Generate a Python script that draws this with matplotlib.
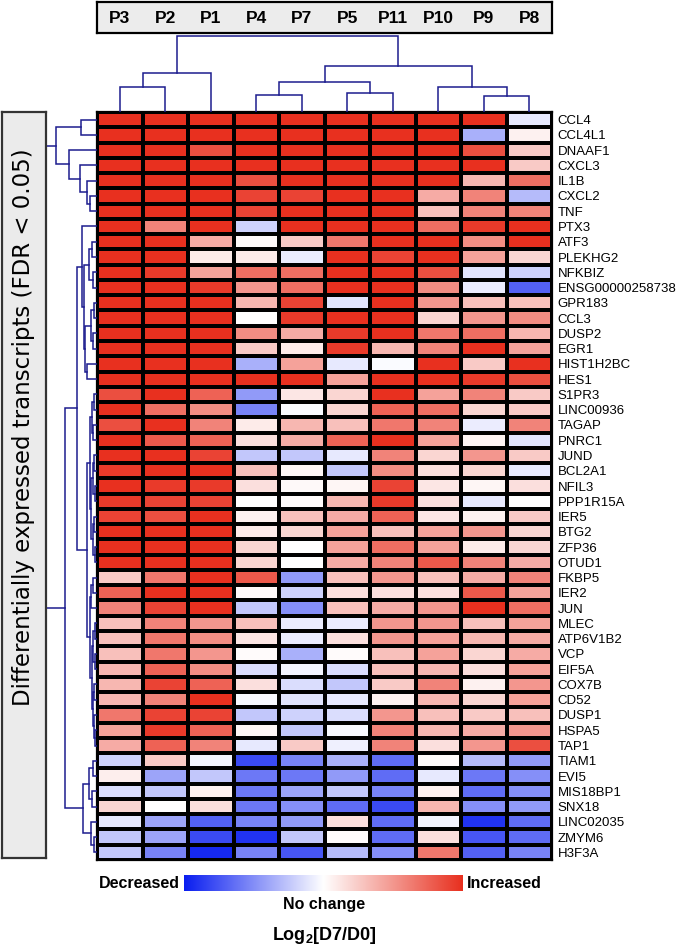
import numpy as np
import matplotlib
matplotlib.use("Agg")
import matplotlib.pyplot as plt
from matplotlib.colors import LinearSegmentedColormap

plt.rcParams.update({
    "font.family": ["Liberation Sans", "DejaVu Sans"],
    "mathtext.fontset": "custom",
    "mathtext.rm": "Liberation Sans",
    "mathtext.bf": "Liberation Sans:bold",
})

samples = ["P3", "P2", "P1", "P4", "P7", "P5", "P11", "P10", "P9", "P8"]
genes = ["CCL4", "CCL4L1", "DNAAF1", "CXCL3", "IL1B", "CXCL2", "TNF", "PTX3", "ATF3",
         "PLEKHG2", "NFKBIZ", "ENSG00000258738", "GPR183", "CCL3", "DUSP2", "EGR1",
         "HIST1H2BC", "HES1", "S1PR3", "LINC00936", "TAGAP", "PNRC1", "JUND", "BCL2A1",
         "NFIL3", "PPP1R15A", "IER5", "BTG2", "ZFP36", "OTUD1", "FKBP5", "IER2", "JUN",
         "MLEC", "ATP6V1B2", "VCP", "EIF5A", "COX7B", "CD52", "DUSP1", "HSPA5", "TAP1",
         "TIAM1", "EVI5", "MIS18BP1", "SNX18", "LINC02035", "ZMYM6", "H3F3A"]

# scaled log2(D7/D0), -1 = strongly decreased, +1 = strongly increased
values = np.array([
    [1, 1, 1, 1, 1, 1, 1, 1, 1, -0.1],
    [1, 1, 1, 1, 1, 1, 1, 1, -0.35, 0.07],
    [1, 1, 0.85, 1, 1, 1, 1, 1, 0.85, 0.25],
    [1, 1, 1, 1, 1, 1, 1, 1, 1, 0.25],
    [1, 1, 1, 0.85, 1, 1, 1, 1, 0.35, 0.7],
    [1, 1, 1, 0.9, 0.9, 1, 1, 0.4, 0.6, -0.3],
    [1, 1, 1, 0.9, 1, 1, 1, 0.3, 0.6, 0.6],
    [1, 0.6, 1, -0.2, 1, 1, 1, 0.7, 0.95, 1],
    [1, 1, 0.4, 0.03, 0.25, 0.65, 1, 1, 0.55, 1],
    [1, 1, 0.1, 0.1, -0.08, 1, 0.9, 1, 0.45, 0.2],
    [1, 0.95, 0.45, 0.7, 0.7, 1, 1, 0.85, -0.12, -0.2],
    [1, 1, 0.95, 0.5, 0.7, 1, 1, 0.55, -0.08, -0.7],
    [1, 1, 1, 0.35, 0.9, -0.12, 1, 0.5, 0.3, 0.3],
    [1, 1, 1, 0.0, 0.95, 1, 1, 0.2, 0.5, 0.55],
    [1, 1, 1, 0.55, 0.4, 0.95, 1, 0.65, 0.7, 0.35],
    [1, 1, 1, 0.25, 0.1, 0.95, 0.35, 0.6, 1, 0.45],
    [1, 1, 1, -0.35, 0.45, -0.1, -0.02, 1, 0.25, 1],
    [1, 1, 1, 1, 1, 0.45, 1, 1, 0.95, 0.85],
    [0.85, 1, 0.75, -0.45, 0.12, 0.2, 1, 0.45, 0.6, 0.25],
    [1, 0.7, 0.55, -0.55, -0.02, 0.2, 0.75, 0.7, 0.2, 0.25],
    [0.85, 1, 0.6, 0.1, 0.35, 0.3, 0.65, 0.6, -0.08, 0.6],
    [1, 0.8, 0.75, 0.15, 0.4, 0.75, 1, 0.45, 0.05, -0.12],
    [1, 1, 0.9, -0.25, -0.25, -0.1, 0.6, 0.2, 0.5, 0.25],
    [0.95, 1, 1, 0.3, 0.04, -0.25, 0.55, 0.15, 0.2, -0.1],
    [1, 0.95, 0.95, 0.15, 0.03, 0.04, 0.9, 0.12, 0.04, 0.15],
    [0.95, 0.9, 0.9, 0.0, 0.02, 0.35, 0.95, 0.15, -0.1, 0.0],
    [0.9, 0.85, 1, 0.07, 0.3, 0.4, 0.75, 0.12, 0.07, 0.25],
    [1, 1, 1, 0.1, 0.2, 0.45, 0.3, 0.45, 0.5, 0.2],
    [1, 1, 1, 0.2, 0.0, 0.45, 0.7, 0.45, 0.1, 0.2],
    [1, 1, 1, 0.2, 0.0, 0.4, 0.6, 0.8, 0.6, 0.4],
    [0.25, 0.65, 1, 0.8, -0.45, 0.3, 0.5, 0.3, 0.4, 0.6],
    [0.75, 1, 1, 0.03, -0.2, 0.15, 0.15, 0.15, 0.8, 0.45],
    [0.6, 0.9, 1, -0.25, -0.5, 0.3, 0.4, 0.5, 1, 0.7],
    [0.3, 0.6, 0.5, 0.3, -0.08, -0.08, 0.5, 0.5, 0.3, 0.45],
    [0.3, 0.65, 0.55, 0.12, -0.08, 0.15, 0.5, 0.45, 0.35, 0.4],
    [0.3, 0.65, 0.5, 0.02, -0.35, 0.02, 0.3, 0.45, 0.2, 0.4],
    [0.35, 0.75, 0.55, -0.15, -0.05, -0.15, 0.3, 0.35, 0.15, 0.45],
    [0.35, 0.9, 0.75, 0.15, -0.15, -0.25, 0.25, 0.6, 0.07, 0.5],
    [0.35, 0.6, 1, -0.03, -0.12, -0.1, 0.07, 0.35, 0.2, 0.45],
    [0.65, 0.9, 0.9, -0.25, -0.2, -0.15, 0.5, 0.3, 0.25, 0.3],
    [0.45, 0.95, 0.75, 0.04, -0.25, -0.03, 0.6, 0.35, 0.4, 0.5],
    [0.4, 0.75, 0.6, -0.1, 0.25, -0.07, 0.6, 0.15, 0.5, 0.85],
    [-0.2, 0.25, -0.05, -0.8, -0.55, -0.35, -0.65, 0.02, -0.3, -0.45],
    [0.08, -0.4, -0.25, -0.6, -0.6, -0.45, -0.65, -0.1, -0.6, -0.5],
    [-0.15, -0.25, 0.07, -0.6, -0.4, -0.25, -0.55, 0.07, -0.65, -0.5],
    [0.2, 0.0, 0.15, -0.6, -0.5, -0.65, -0.8, 0.35, -0.5, -0.45],
    [-0.1, -0.4, -0.7, -0.55, -0.45, 0.15, -0.65, -0.05, -0.9, -0.65],
    [-0.25, -0.4, -0.8, -0.9, -0.25, 0.02, -0.65, 0.15, -0.75, -0.65],
    [-0.25, -0.55, -0.95, -0.55, -0.75, -0.3, -0.5, 0.65, -0.7, -0.55],
])

# dendrograms as nested [left, right, merge height]; leaves are row/column indices
col_tree = [[[0, 1, 25], 2, 39], [[[3, 4, 17], [5, 6, 19], 30], [7, [8, 9, 16], 25], 46], 76]

tree_a = [[0, 1, 16], [2, [3, [4, [5, 6, 7], 10], 17], 28], 41]
tree_b1a = [7, [[[8, 9, 5], [10, 11, 4], 8], [[[12, 13, 3], [14, 15, 4], 6], [16, 17, 10], 12], 13], 15]
tree_c1 = [[[18, 19, 3], [20, 21, 4], 5], [[[22, 23, 3], [24, 25, 2], 4], [[26, 27, 3], [28, 29, 2], 4], 6], 7]
tree_c2 = [[[30, 31, 4], 32, 6], [[[33, 34, 2], [35, 36, 2], 4], [[37, 38, 3], [39, [40, 41, 2], 3], 4], 5], 7]
tree_b2 = [[[42, 43, 4], [44, 45, 5], 8], [46, [47, 48, 3], 6], 14]
row_tree = [tree_a, [[tree_b1a, [tree_c1, tree_c2, 10], 20], tree_b2, 32], 60]

W, H = 679, 950
DCOL = "#1c1c8e"
cmap = LinearSegmentedColormap.from_list("ref", ["#0a1ef0", "#ffffff", "#e8301f"])


def px_axes(fig, x0, y0, x1, y1):
    return fig.add_axes([x0 / W, 1 - y1 / H, (x1 - x0) / W, (y1 - y0) / H])


def draw_tree(ax, node, horizontal):
    # returns (leaf position, height) of the node
    if not isinstance(node, list):
        return node + 0.5, 0
    left, right, h = node
    pl, hl = draw_tree(ax, left, horizontal)
    pr, hr = draw_tree(ax, right, horizontal)
    xs, ys = [pl, pl, pr, pr], [hl, h, h, hr]
    if horizontal:
        ax.plot(xs, ys, color=DCOL, lw=1.1, solid_joinstyle="miter")
    else:
        ax.plot(ys, xs, color=DCOL, lw=1.1, solid_joinstyle="miter")
    return (pl + pr) / 2, h


fig = plt.figure(figsize=(W / 100, H / 100), dpi=100)

# heatmap
ax = px_axes(fig, 97, 112, 552, 860)
ax.pcolormesh(values, cmap=cmap, vmin=-1, vmax=1, edgecolors="black", linewidth=1.6)
ax.set_xlim(0, len(samples))
ax.set_ylim(len(genes), 0)
ax.set_xticks([])
ax.yaxis.tick_right()
ax.set_yticks(np.arange(len(genes)) + 0.5)
ax.set_yticklabels(genes, fontsize=9.5)
ax.tick_params(axis="y", length=0, pad=4)
for s in ax.spines.values():
    s.set_linewidth(1.6)

# column dendrogram
axc = px_axes(fig, 97, 35, 552, 112)
draw_tree(axc, col_tree, True)
axc.set_xlim(0, len(samples))
axc.set_ylim(0, 77)
axc.axis("off")

# row dendrogram (root sits under the label box)
axr = px_axes(fig, 0, 112, 97, 860)
draw_tree(axr, row_tree, False)
axr.set_xlim(97, 0)
axr.set_ylim(len(genes), 0)
axr.axis("off")

# sample header box
axh = px_axes(fig, 97, 2, 552, 33)
axh.set_facecolor("#ececec")
axh.set_xlim(0, len(samples))
axh.set_ylim(0, 1)
axh.set_xticks([])
axh.set_yticks([])
for s in axh.spines.values():
    s.set_linewidth(1.6)
for i, name in enumerate(samples):
    axh.text(i + 0.5, 0.48, name, ha="center", va="center", fontsize=12.5, fontweight="bold")

# left label box
axl = px_axes(fig, 2, 112, 46, 858)
axl.set_facecolor("#ebebeb")
axl.set_xticks([])
axl.set_yticks([])
for s in axl.spines.values():
    s.set_linewidth(1.6)
    s.set_color("#333333")
axl.text(0.5, 0.578, "Differentially expressed transcripts (FDR < 0.05)", rotation=90,
         ha="center", va="center", fontsize=16.5, transform=axl.transAxes,
         family="DejaVu Sans")

# colour scale
axb = px_axes(fig, 184, 875, 463, 891)
axb.imshow(np.linspace(-1, 1, 256)[None, :], cmap=cmap, vmin=-1, vmax=1, aspect="auto")
axb.axis("off")
fig.text(180 / W, 1 - 883 / H, "Decreased", ha="right", va="center", fontsize=11.5, fontweight="bold")
fig.text(467 / W, 1 - 883 / H, "Increased", ha="left", va="center", fontsize=11.5, fontweight="bold")
fig.text(324 / W, 1 - 905 / H, "No change", ha="center", va="center", fontsize=11.5, fontweight="bold")
fig.text(324 / W, 1 - 936 / H, r"Log$_\mathbf{2}$[D7/D0]", ha="center", va="center",
         fontsize=13, fontweight="bold")

fig.savefig("out.png", dpi=100)
